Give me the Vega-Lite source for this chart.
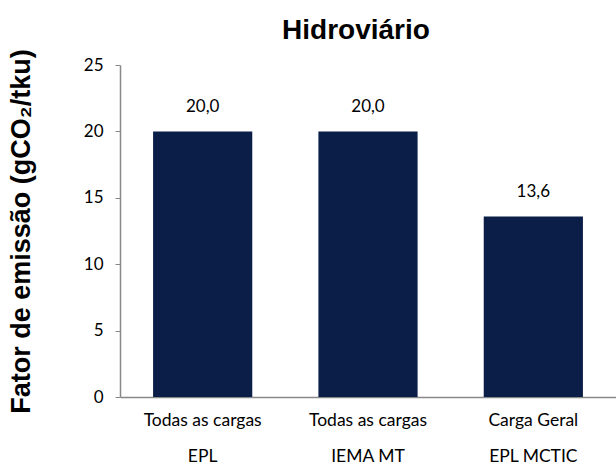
{
  "$schema": "https://vega.github.io/schema/vega-lite/v6.json",
  "autosize": "none",
  "width": 496,
  "height": 332,
  "padding": {"left": 120, "top": 65, "right": 0, "bottom": 68},
  "background": "white",
  "config": {
    "view": {"stroke": null},
    "locale": {"number": {"decimal": ",", "thousands": ".", "grouping": [3], "currency": ["", ""]}}
  },
  "title": {
    "text": "Hidroviário",
    "font": "Liberation Sans",
    "fontSize": 28,
    "fontWeight": "bold",
    "color": "#000000",
    "anchor": "middle",
    "dx": -12,
    "offset": 4
  },
  "data": {
    "values": [
      {"cat": "Todas as cargas|EPL", "value": 20.0},
      {"cat": "Todas as cargas|IEMA MT", "value": 20.0},
      {"cat": "Carga Geral|EPL MCTIC", "value": 13.6}
    ]
  },
  "encoding": {
    "x": {
      "field": "cat",
      "type": "nominal",
      "sort": null,
      "scale": {"paddingInner": 0.4, "paddingOuter": 0.2},
      "axis": {
        "title": null,
        "labelAngle": 0,
        "labelExpr": "split(datum.value, '|')",
        "labelLineHeight": 36,
        "labelFont": "Lato",
        "labelFontSize": 17.5,
        "labelColor": "#000000",
        "labelPadding": 14,
        "ticks": false,
        "domainColor": "#888888",
        "domainWidth": 1.5
      }
    },
    "y": {
      "field": "value",
      "type": "quantitative",
      "scale": {"domain": [0, 25]},
      "axis": {
        "title": "Fator de emissão (gCO₂/tku)",
        "titleFont": "Liberation Sans",
        "titleFontSize": 27,
        "titleFontWeight": "bold",
        "titleColor": "#000000",
        "titlePadding": 48,
        "values": [0, 5, 10, 15, 20, 25],
        "grid": false,
        "labelFont": "Lato",
        "labelFontSize": 17,
        "labelColor": "#000000",
        "labelPadding": 12,
        "tickSize": 5,
        "tickColor": "#888888",
        "domainColor": "#888888",
        "domainWidth": 1.5
      }
    }
  },
  "layer": [
    {"mark": {"type": "bar", "color": "#0b1e48"}},
    {
      "mark": {"type": "text", "baseline": "alphabetic", "dy": -19, "font": "Lato", "fontSize": 17, "color": "#000000"},
      "encoding": {"text": {"field": "value", "type": "quantitative", "format": ".1f"}}
    }
  ]
}
